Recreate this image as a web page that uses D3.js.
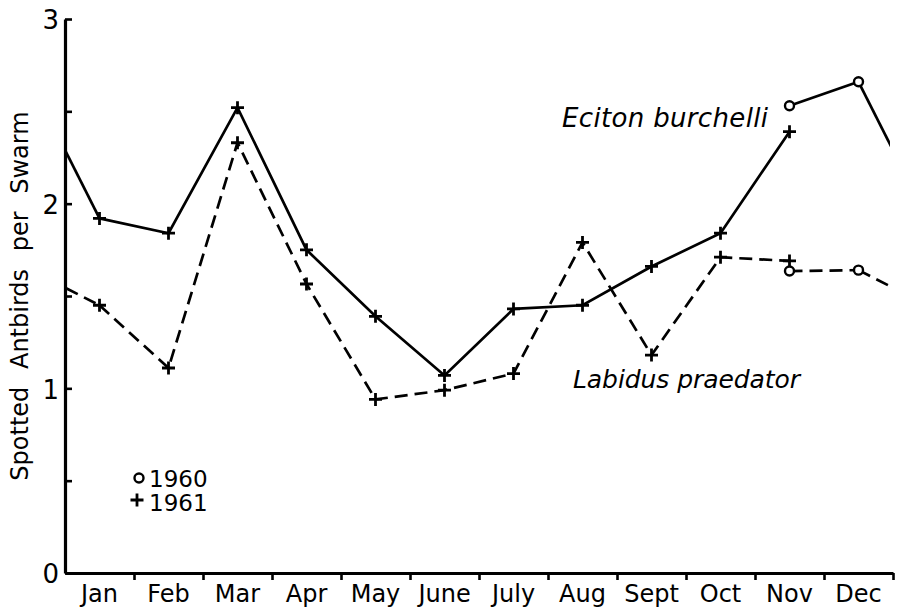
<!DOCTYPE html>
<html>
<head>
<meta charset="utf-8">
<script src="https://cdn.jsdelivr.net/npm/d3@7"></script>
<style>
  body { margin: 0; background: #fff; }
  svg { display: block; font-family: 'DejaVu Sans', sans-serif; }
</style>
</head>
<body>
<svg id="graph" width="899" height="615"></svg>
<script>
// data
var months = ['Jan','Feb','Mar','Apr','May','June','July','Aug','Sept','Oct','Nov','Dec'];
var yTicks = [0, 0.5, 1, 1.5, 2, 2.5, 3];

// 1961 (+), Jan..Nov
var eciton1961  = [1.92, 1.84, 2.52, 1.75, 1.39, 1.07, 1.43, 1.45, 1.66, 1.84, 2.39];
var labidus1961 = [1.45, 1.11, 2.33, 1.565, 0.94, 0.99, 1.08, 1.79, 1.18, 1.71, 1.69];
// 1960 (o), Nov..Dec
var months1960  = ['Nov', 'Dec'];
var eciton1960  = [2.53, 2.66];
var labidus1960 = [1.635, 1.64];

/*******************************************************************************************/

var svg = d3.select('#graph');
var mLeft = 65, mRight = 893, mTop = 19, mBottom = 573;
var FONT = "'DejaVu Sans', sans-serif";

var x = d3.scaleBand().domain(months).range([mLeft, mRight]).paddingInner(0).paddingOuter(0);
var xEdge = d3.scaleLinear().domain([0, 12]).range([mLeft, mRight]);
var y = d3.scaleLinear().domain([0, 3]).range([mBottom, mTop]);
var bw = x.bandwidth();
var cx = m => x(m) + bw / 2;

var lineGen = d3.line().x(d => d.x).y(d => d.y);

svg.append('clipPath').attr('id', 'plotclip')
   .append('rect').attr('x', mLeft + 1).attr('y', 0).attr('width', mRight - mLeft - 4).attr('height', mBottom);

function series(values, mlist){
  return values.map((v, i) => ({ x: cx(mlist[i]), y: y(v) }));
}

function plus(g, px, py){
  var s = 6.5;
  g.append('path').attr('d', 'M' + (px - s) + ',' + py + 'H' + (px + s) + 'M' + px + ',' + (py - s) + 'V' + (py + s))
   .attr('stroke', '#000').attr('stroke-width', 2.8).attr('fill', 'none');
}
function circ(g, px, py){
  g.append('circle').attr('cx', px).attr('cy', py).attr('r', 4.5)
   .attr('fill', '#fff').attr('stroke', '#000').attr('stroke-width', 2.4);
}

function drawSeries(v61, v60, dash){
  var g = svg.append('g').attr('clip-path', 'url(#plotclip)');
  var style = p => p.attr('fill', 'none').attr('stroke', '#000').attr('stroke-width', 2.7)
                    .attr('stroke-dasharray', dash).attr('stroke-linecap', 'butt');

  var p61 = series(v61, months.slice(0, v61.length));
  var p60 = series(v60, months1960);
  style(g.append('path').attr('d', lineGen(p61)));
  style(g.append('path').attr('d', lineGen(p60)));

  // wrap-around: Dec 1960 runs off into Jan at both ends of the year
  var dec = v60[v60.length - 1], jan = v61[0];
  style(g.append('path').attr('d', lineGen([{ x: cx('Jan') - bw, y: y(dec) }, { x: cx('Jan'), y: y(jan) }])));
  style(g.append('path').attr('d', lineGen([{ x: cx('Dec'), y: y(dec) }, { x: cx('Dec') + bw, y: y(jan) }])));

  p61.forEach(p => plus(svg, p.x, p.y));
  p60.forEach(p => circ(svg, p.x, p.y));
}

drawSeries(eciton1961, eciton1960, null);
drawSeries(labidus1961, labidus1960, '13,7');

/*******************************************************************************************/
// axes

var yAxis = svg.append('g').attr('transform', 'translate(' + mLeft + ',0)')
  .call(d3.axisLeft(y).tickValues(yTicks).tickSizeInner(-7).tickSizeOuter(0).tickPadding(6)
        .tickFormat(d => Number.isInteger(d) ? d : ''));
yAxis.select('.domain').attr('stroke-width', 3.2);
yAxis.selectAll('.tick line').attr('stroke-width', 2.6);
yAxis.selectAll('.tick text').attr('font-size', 26).attr('font-family', FONT).attr('dy', '0.38em');

var xAxis = svg.append('g').attr('transform', 'translate(0,' + mBottom + ')')
  .call(d3.axisBottom(xEdge).tickValues(d3.range(1, 13)).tickSizeInner(7).tickSizeOuter(0).tickFormat(''));
xAxis.select('.domain').attr('stroke-width', 3.2);
xAxis.selectAll('.tick line').attr('stroke-width', 2.6);

var xLabels = svg.append('g').attr('transform', 'translate(0,' + mBottom + ')')
  .call(d3.axisBottom(x).tickSize(0).tickPadding(12));
xLabels.select('.domain').remove();
xLabels.selectAll('.tick text').attr('font-size', 24).attr('font-family', FONT);

svg.append('text')
   .attr('transform', 'translate(28,296) rotate(-90)')
   .attr('text-anchor', 'middle').attr('font-size', 24).attr('word-spacing', 10)
   .text('Spotted Antbirds per Swarm');

/*******************************************************************************************/
// labels and key

svg.append('text').attr('x', 562).attr('y', 127).attr('font-size', 26).attr('font-style', 'italic')
   .attr('textLength', 206).attr('lengthAdjust', 'spacing').text('Eciton burchelli');
svg.append('text').attr('x', 573).attr('y', 388).attr('font-size', 25).attr('font-style', 'italic')
   .attr('textLength', 227).attr('lengthAdjust', 'spacing').text('Labidus praedator');

circ(svg, 139, 478);
svg.append('text').attr('x', 149).attr('y', 487).attr('font-size', 23).text('1960');
plus(svg, 137, 500);
svg.append('text').attr('x', 149).attr('y', 511).attr('font-size', 23).text('1961');
</script>
</body>
</html>
